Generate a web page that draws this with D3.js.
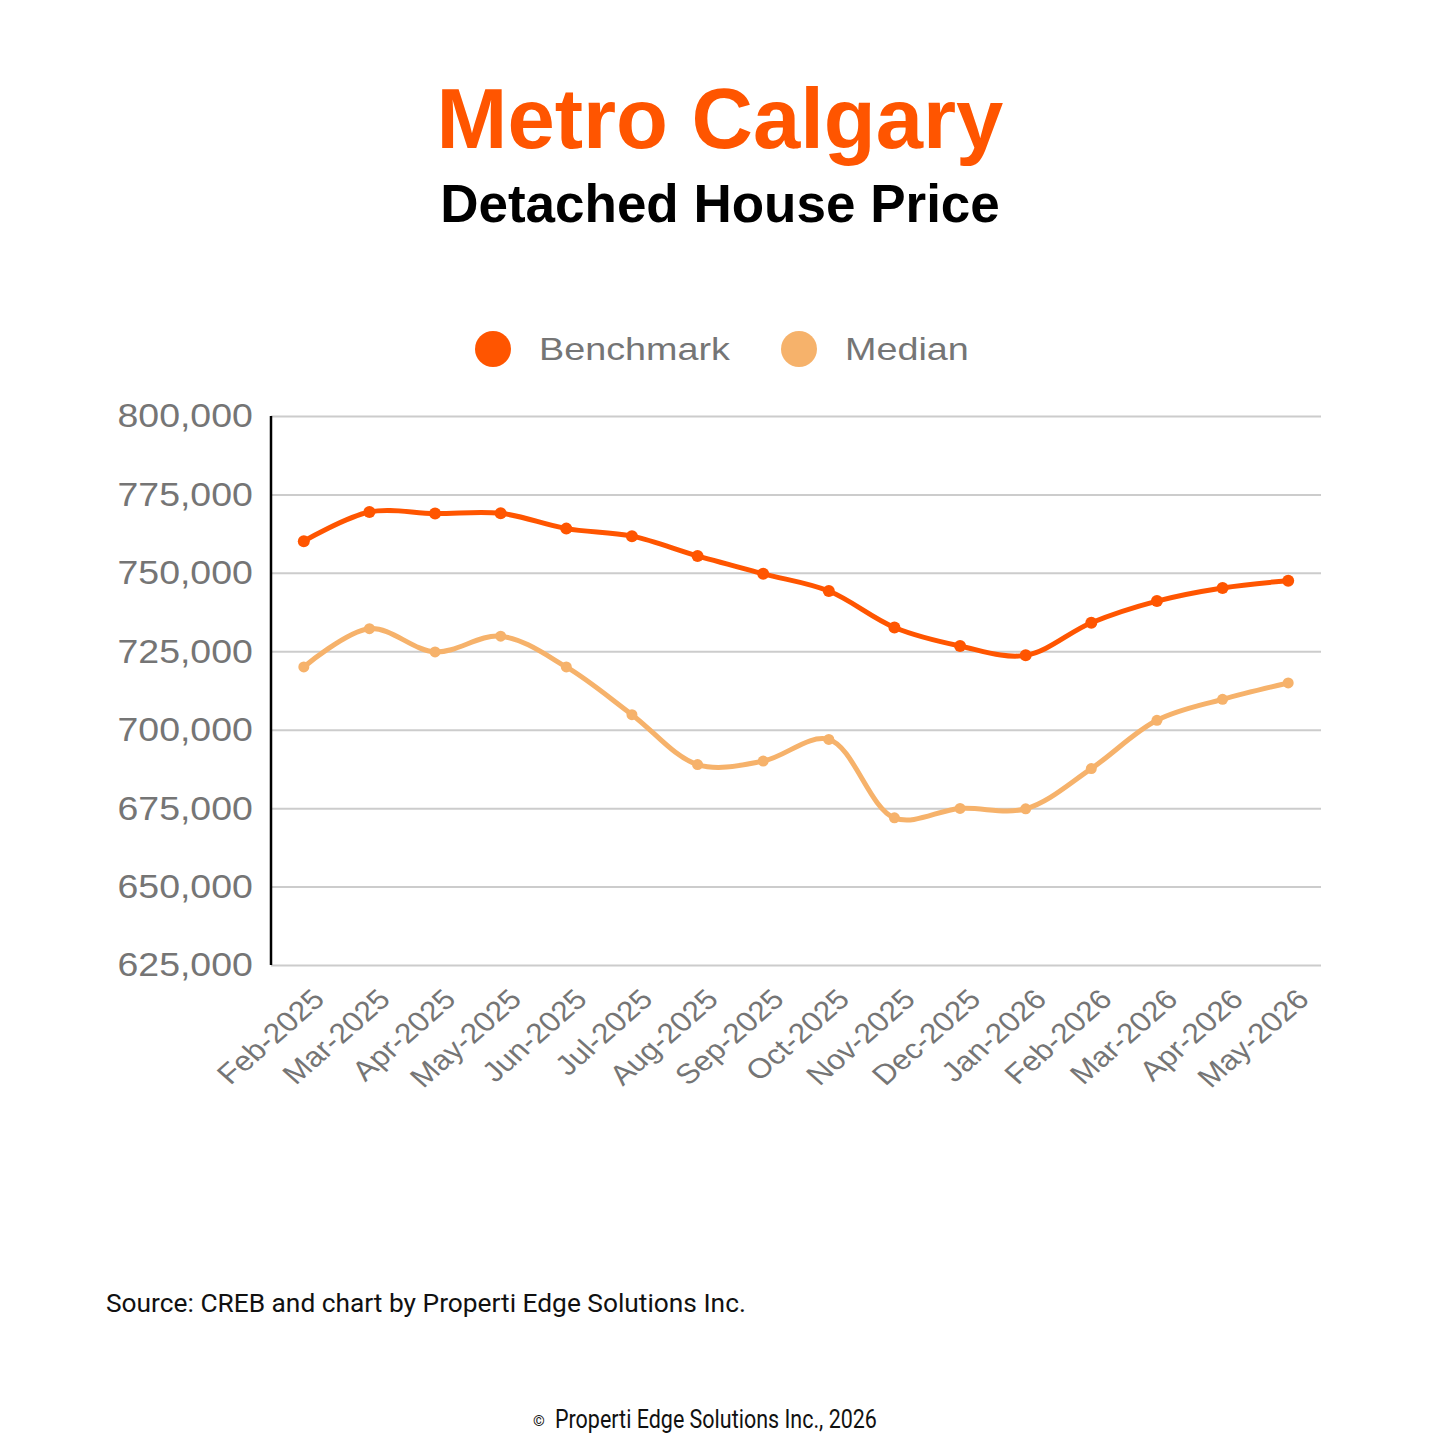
<!DOCTYPE html>
<html>
<head>
<meta charset="utf-8">
<script src="https://cdn.jsdelivr.net/npm/d3@7"></script>
<style>
  html, body { margin: 0; padding: 0; background: #ffffff; }
  svg { display: block; }
</style>
</head>
<body>
<div id="chart"></div>
<script>
// ---- data ----
const months = ["Feb-2025","Mar-2025","Apr-2025","May-2025","Jun-2025","Jul-2025","Aug-2025","Sep-2025",
                "Oct-2025","Nov-2025","Dec-2025","Jan-2026","Feb-2026","Mar-2026","Apr-2026","May-2026"];
const benchmark = [760100, 769400, 768900, 769000, 764100, 761700, 755400, 749700,
                   744200, 732600, 726700, 723700, 734100, 741000, 745200, 747500];
const median = [720000, 732200, 724800, 729800, 720000, 704800, 688900, 690000,
                696900, 671900, 674900, 674800, 687600, 703000, 709700, 714900];
const yTicks = [625000, 650000, 675000, 700000, 725000, 750000, 775000, 800000];
const seriesNames = ["Benchmark", "Median"];
const seriesColors = ["#FF5500", "#F6B26B"];

const W = 1440, H = 1440;
const plotL = 271, plotR = 1321, plotT = 416, plotB = 965;
const TEXT_STRETCH = 1.135;
const LEGEND_STRETCH = 1.18;

const svg = d3.select("#chart").append("svg")
  .attr("width", W).attr("height", H).attr("viewBox", `0 0 ${W} ${H}`);
svg.append("rect").attr("width", W).attr("height", H).attr("fill", "#ffffff");

// ---- titles ----
svg.append("text").attr("x", 720).attr("y", 148).attr("text-anchor", "middle")
  .attr("font-family", "'Liberation Sans', Arial, sans-serif").attr("font-weight", "bold")
  .attr("font-size", 85).attr("fill", "#FF5500").text("Metro Calgary");
svg.append("text").attr("x", 720).attr("y", 222).attr("text-anchor", "middle")
  .attr("font-family", "'Liberation Sans', Arial, sans-serif").attr("font-weight", "bold")
  .attr("font-size", 53).attr("fill", "#000000").text("Detached House Price");

// ---- scales ----
const x = d3.scalePoint().domain(months).range([plotL, plotR]).padding(0.5);
const y = d3.scaleLinear().domain([625000, 800000]).range([plotB, plotT]);

// ---- y axis with gridlines ----
const yAxis = svg.append("g").attr("transform", `translate(${plotL},0)`)
  .call(d3.axisLeft(y).tickValues(yTicks).tickFormat(d3.format(",")).tickSize(-(plotR - plotL)).tickPadding(0));
yAxis.select(".domain").remove();
yAxis.selectAll(".tick line").attr("stroke", "#cccccc").attr("stroke-width", 2);
yAxis.selectAll(".tick text")
  .attr("font-family", "'Liberation Sans', Arial, sans-serif")
  .attr("font-size", 33).attr("fill", "#757575")
  .attr("x", -16).attr("dy", "0.33em")
  .attr("transform", `scale(${TEXT_STRETCH},1)`);

// ---- x axis ----
const xAxis = svg.append("g").attr("transform", `translate(0,${plotB})`)
  .call(d3.axisBottom(x).tickSize(0));
xAxis.select(".domain").remove();
xAxis.selectAll(".tick text")
  .attr("font-family", "'Liberation Sans', Arial, sans-serif")
  .attr("font-size", 28).attr("fill", "#757575")
  .attr("text-anchor", "end").attr("x", 0).attr("y", 0).attr("dy", 0)
  .attr("transform", `translate(22,36) scale(${TEXT_STRETCH},1) rotate(-45)`);

// left axis line
svg.append("line").attr("x1", plotL).attr("x2", plotL).attr("y1", y(800000)).attr("y2", plotB)
  .attr("stroke", "#000000").attr("stroke-width", 2.5);

// ---- lines ----
const series = [benchmark, median];
const line = d3.line().x((d, i) => x(months[i])).y(d => y(d)).curve(d3.curveCatmullRom.alpha(0.5));
[1, 0].forEach(si => {
  const g = svg.append("g");
  g.append("path").datum(series[si]).attr("d", line)
    .attr("fill", "none").attr("stroke", seriesColors[si]).attr("stroke-width", 5)
    .attr("stroke-linejoin", "round").attr("stroke-linecap", "round");
  g.selectAll("circle").data(series[si]).join("circle")
    .attr("cx", (d, i) => x(months[i])).attr("cy", d => y(d))
    .attr("r", si === 0 ? 6 : 5.5).attr("fill", seriesColors[si]);
});

// ---- legend ----
const legendX = [493, 799];
seriesNames.forEach((name, i) => {
  svg.append("circle").attr("cx", legendX[i]).attr("cy", 349).attr("r", 18).attr("fill", seriesColors[i]);
  svg.append("text").attr("x", (legendX[i] + 46) / LEGEND_STRETCH).attr("y", 360)
    .attr("transform", `scale(${LEGEND_STRETCH},1)`)
    .attr("font-family", "'Liberation Sans', Arial, sans-serif")
    .attr("font-size", 32).attr("fill", "#757575").text(name);
});

// ---- footer ----
svg.append("text").attr("x", 106).attr("y", 1312)
  .attr("font-family", "Roboto, sans-serif").attr("font-size", 26.3).attr("fill", "#111111")
  .text("Source: CREB and chart by Properti Edge Solutions Inc.");
svg.append("text").attr("x", 533).attr("y", 1426)
  .attr("font-family", "Roboto, sans-serif").attr("font-size", 15).attr("fill", "#111111").text("©");
svg.append("text").attr("x", 555 / 0.86).attr("y", 1428)
  .attr("transform", "scale(0.86,1)")
  .attr("font-family", "Roboto, sans-serif").attr("font-size", 25).attr("fill", "#111111")
  .text("Properti Edge Solutions Inc., 2026");
</script>
</body>
</html>
